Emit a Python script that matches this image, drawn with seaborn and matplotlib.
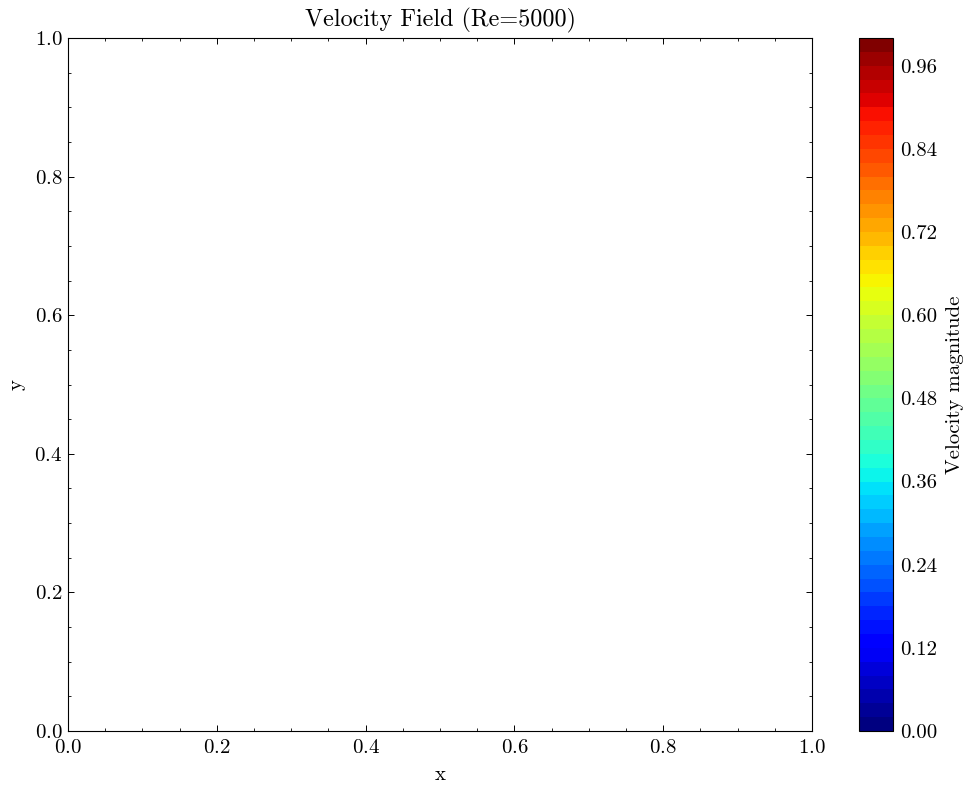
import numpy as np
import matplotlib
matplotlib.use("Agg")
import matplotlib.pyplot as plt
from matplotlib.cm import ScalarMappable
from matplotlib.colors import BoundaryNorm
from matplotlib.ticker import MultipleLocator
import seaborn as sns

# the field in the source figure is empty, only axes and colorbar show
x_values = []
y_values = []
xy_ticks = [0.0, 0.2, 0.4, 0.6, 0.8, 1.0]
cbar_ticks = [0.00, 0.12, 0.24, 0.36, 0.48, 0.60, 0.72, 0.84, 0.96]
level_edges = np.linspace(0, 1, 51)

sns.set_theme(style="ticks", rc={
    "axes.edgecolor": "black",
    "axes.linewidth": 0.8,
    "axes.unicode_minus": False,
    "axes.formatter.use_mathtext": True,
    "mathtext.fontset": "cm",
    "xtick.color": "black",
    "ytick.color": "black",
    "text.color": "black",
    "axes.labelcolor": "black",
    "xtick.direction": "in",
    "ytick.direction": "in",
    "xtick.top": True,
    "ytick.right": True,
    "xtick.major.size": 4.3,
    "ytick.major.size": 4.3,
    "xtick.minor.size": 2.2,
    "ytick.minor.size": 2.2,
    "xtick.major.width": 0.7,
    "ytick.major.width": 0.7,
    "xtick.minor.width": 0.6,
    "ytick.minor.width": 0.6,
})
plt.rcParams["font.family"] = ["cmr10", "DejaVu Sans"]

W, H = 971, 791
fig = plt.figure(figsize=(W / 100, H / 100), dpi=100)
ax = fig.add_axes([68 / W, 1 - 731 / H, 744 / W, 693 / H])
cax = fig.add_axes([859 / W, 1 - 731 / H, 34 / W, 693 / H])

sns.lineplot(x=x_values, y=y_values, ax=ax)
ax.set_xlim(0, 1)
ax.set_ylim(0, 1)
ax.set_xticks(xy_ticks)
ax.set_yticks(xy_ticks)
ax.xaxis.set_minor_locator(MultipleLocator(0.05))
ax.yaxis.set_minor_locator(MultipleLocator(0.05))
ax.tick_params(axis="x", labelsize=15, pad=6)
ax.tick_params(axis="y", labelsize=15, pad=4)
ax.set_xlabel("x", fontsize=15, labelpad=6)
ax.set_ylabel("y", fontsize=15, labelpad=6)
ax.set_title("Velocity Field (Re=5000)", fontsize=17.4, pad=8)

norm = BoundaryNorm(level_edges, 256)
sm = ScalarMappable(norm=norm, cmap="jet")
cbar = fig.colorbar(sm, cax=cax, ticks=cbar_ticks, spacing="proportional", format="%.2f")
cbar.ax.minorticks_off()
cbar.ax.tick_params(labelsize=15, direction="in", length=4.3, width=0.7, right=True, left=False, pad=5)
cbar.outline.set_linewidth(0.8)
cbar.set_label("Velocity magnitude", fontsize=15, labelpad=6)

fig.savefig("out.png", dpi=100)
